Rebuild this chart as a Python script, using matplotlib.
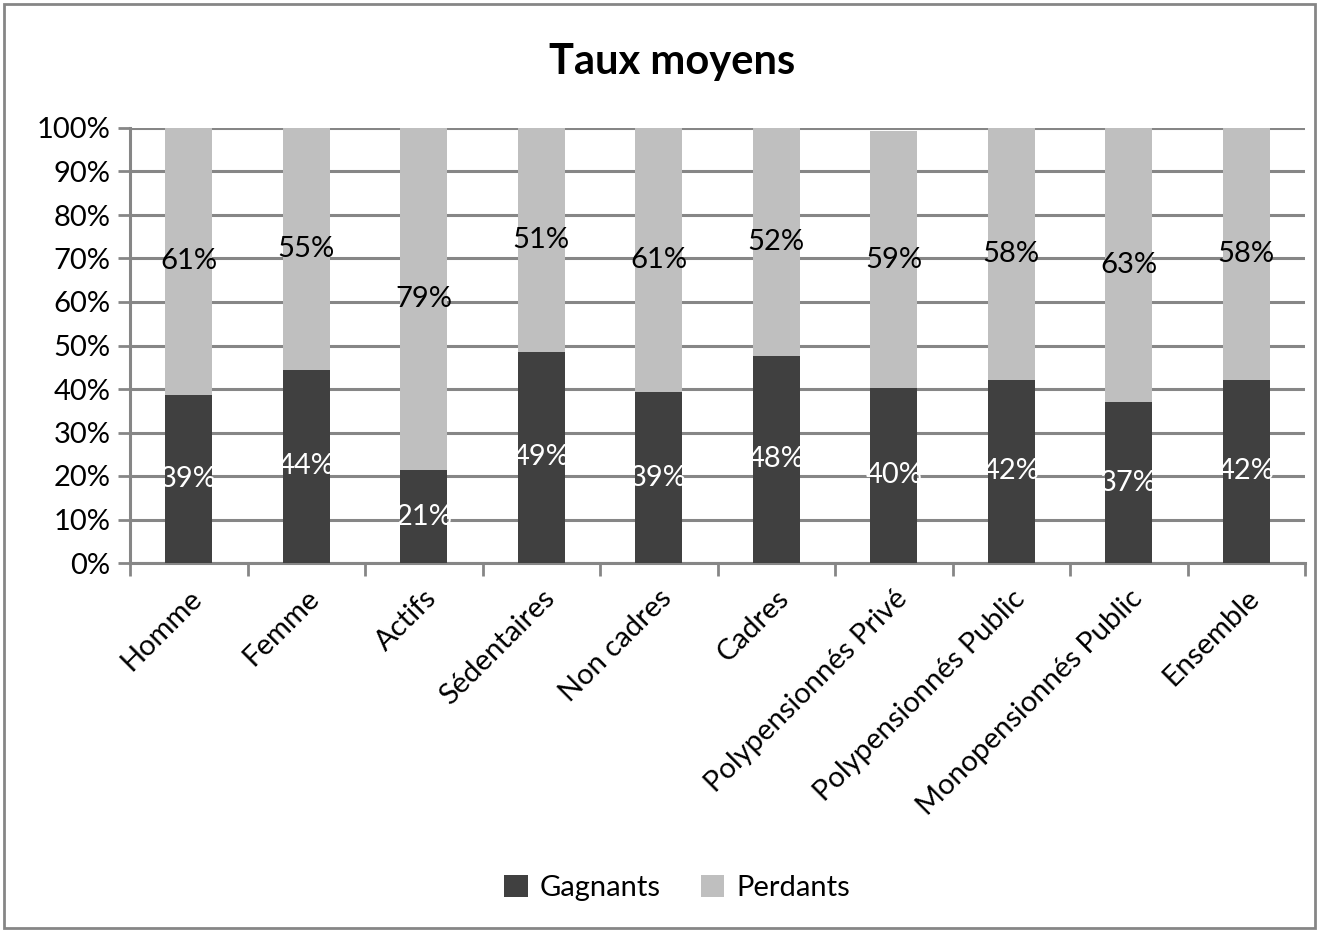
import matplotlib
matplotlib.use("Agg")
import matplotlib.pyplot as plt
import numpy as np
from matplotlib.patches import Rectangle

categories = ["Homme", "Femme", "Actifs", "Sédentaires", "Non cadres", "Cadres",
              "Polypensionnés Privé", "Polypensionnés Public", "Monopensionnés Public", "Ensemble"]
gagnants = [38.7, 44.45, 21.3, 48.6, 39.2, 47.6, 40.3, 42.1, 37.0, 42.1]
perdants = [61.3, 55.45, 78.7, 51.4, 60.8, 52.4, 58.9, 57.9, 63.0, 57.9]
yticks = [0, 10, 20, 30, 40, 50, 60, 70, 80, 90, 100]

plt.rcParams['font.family'] = ['Lato', 'DejaVu Sans']

W, H = 1319, 932
fig = plt.figure(figsize=(W / 100, H / 100), dpi=100)
ax = fig.add_axes([130 / W, (H - 563) / H, (1305 - 130) / W, (563 - 128) / H])

dark = "#404040"
light = "#BFBFBF"
grid = "#868686"

x = np.arange(len(categories))
b1 = ax.bar(x, gagnants, width=0.4, color=dark, label="Gagnants", zorder=3)
b2 = ax.bar(x, perdants, width=0.4, bottom=gagnants, color=light, label="Perdants", zorder=3)

fs = 21
for i in range(len(categories)):
    ax.text(x[i], gagnants[i] / 2, f"{round(gagnants[i])}%", ha="center", va="center",
            color="white", fontsize=fs, zorder=4)
    ax.text(x[i], gagnants[i] + perdants[i] / 2, f"{round(perdants[i])}%", ha="center",
            va="center", color="black", fontsize=fs, zorder=4)

ax.set_xlim(-0.5, len(categories) - 0.5)
ax.set_ylim(0, 100)
ax.set_yticks(yticks)
ax.set_yticklabels([f"{v}%" for v in yticks], fontsize=fs)
ax.yaxis.grid(True, color=grid, linewidth=2.2, zorder=0)
ax.set_axisbelow(True)

ax.set_xticks(x)
ax.set_xticklabels(categories, rotation=45, ha="right", rotation_mode="anchor", fontsize=fs)
ax.tick_params(axis="x", length=0, pad=16)
ax.set_xticks(np.arange(-0.5, len(categories)), minor=True)
ax.tick_params(axis="x", which="minor", length=9, width=2, color=grid)
ax.tick_params(axis="y", length=9, width=2, color=grid, pad=5)

for s in ["top", "right"]:
    ax.spines[s].set_visible(False)
for s in ["left", "bottom"]:
    ax.spines[s].set_color(grid)
    ax.spines[s].set_linewidth(2.2)

fig.text(672 / W, 1 - 62 / H, "Taux moyens", ha="center", va="center",
         fontsize=30, fontweight="bold")

leg = fig.legend(handles=[b1, b2], labels=["Gagnants", "Perdants"], loc="center",
                 bbox_to_anchor=(677 / W, 1 - 888 / H), ncol=2, frameon=False,
                 fontsize=fs, handlelength=0.8, handleheight=0.8, columnspacing=1.4,
                 handletextpad=0.4)

fig.patches.append(Rectangle((4 / W, 4 / H), (W - 8) / W, (H - 8) / H,
                             transform=fig.transFigure, fill=False,
                             edgecolor="#868686", linewidth=2))

fig.savefig("out.png", dpi=100)
